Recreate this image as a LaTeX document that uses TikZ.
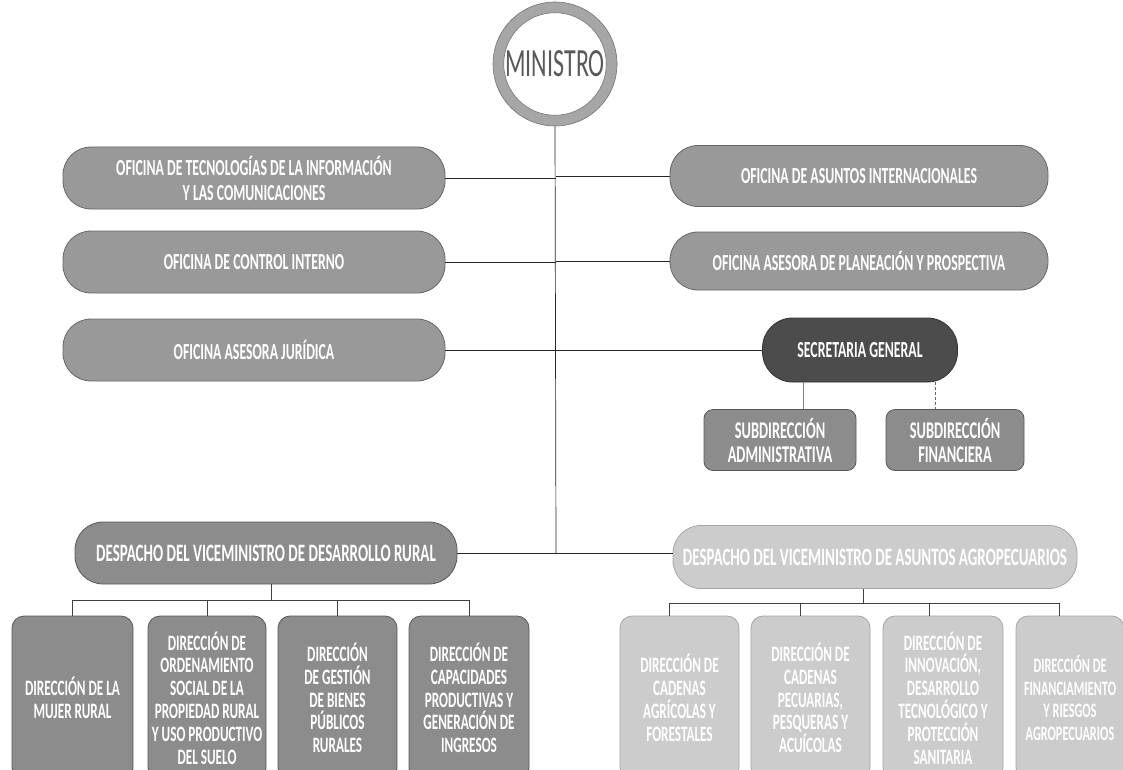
\documentclass[tikz,border=0pt]{standalone}
\usepackage{fontspec}
\newfontfamily\cond{Carlito}[FakeStretch=0.6]
\begin{document}
\begin{tikzpicture}[x=1pt,y=-1pt,
  boxtxt/.style={text=white, align=center, inner sep=0pt, font=\cond\bfseries\fontsize{23}{25}\selectfont},
  office/.style={boxtxt, draw=black!60, line width=0.8pt, fill=black!40, rounded corners=28pt, minimum width=382pt, minimum height=62pt},
  secgen/.style={boxtxt, draw=black!80, line width=0.8pt, fill=black!70, rounded corners=30pt, minimum width=195pt, minimum height=64pt},
  subdir/.style={boxtxt, draw=black!65, line width=0.8pt, fill=black!45, rounded corners=9pt, minimum height=61pt, font=\cond\bfseries\fontsize{24}{24}\selectfont},
  despL/.style={boxtxt, draw=black!65, line width=0.8pt, fill=black!45, rounded corners=28pt, minimum width=382pt, minimum height=62pt, font=\cond\bfseries\fontsize{25}{27}\selectfont},
  despR/.style={despL, draw=black!35, fill=black!20},
  dirL/.style={boxtxt, draw=black!65, line width=0.8pt, fill=black!45, rounded corners=12pt, minimum width=119pt, minimum height=164pt, font=\cond\bfseries\fontsize{22}{22.8}\selectfont},
  dirR/.style={dirL, draw=black!35, fill=black!20},
  conn/.style={draw=black!85, line width=0.7pt},
  bus/.style={draw=black!75, line width=0.7pt}
]
\useasboundingbox (0,0) rectangle (1123,770);
\clip (0,0) rectangle (1123,770);
\fill[white] (0,0) rectangle (1123,770);

% Minister
\node[circle, minimum size=124pt, fill=black!35, draw=black!55, line width=0.6pt, inner sep=0pt] (minring) at (555,64) {};
\node[circle, minimum size=100pt, fill=white, draw=black!55, line width=0.6pt, inner sep=0pt, text=black!65, font=\cond\fontsize{40}{44}\selectfont] (min) at (555,64) {MINISTRO};

% Offices
\node[office] (l1) at (254,178) {OFICINA DE TECNOLOGÍAS DE LA INFORMACIÓN\\Y LAS COMUNICACIONES};
\node[office] (l2) at (254,262) {OFICINA DE CONTROL INTERNO};
\node[office] (l3) at (254,350) {OFICINA ASESORA JURÍDICA};
\node[office, minimum width=378pt, minimum height=61pt] (r1) at (859,176) {OFICINA DE ASUNTOS INTERNACIONALES};
\node[office, minimum width=378pt, minimum height=58pt] (r2) at (859,261) {OFICINA ASESORA DE PLANEACIÓN Y PROSPECTIVA};

% Secretaria general
\node[secgen] (sg) at (860,350) {SECRETARIA GENERAL};
\node[subdir, minimum width=152pt] (sa) at (780,440) {SUBDIRECCIÓN\\ADMINISTRATIVA};
\node[subdir, minimum width=138pt] (sf) at (955,440) {SUBDIRECCIÓN\\FINANCIERA};

% Despachos
\node[despL] (dl) at (266,553) {DESPACHO DEL VICEMINISTRO DE DESARROLLO RURAL};
\node[despR, minimum width=404pt, minimum height=63pt] (dr) at (875,557) {DESPACHO DEL VICEMINISTRO DE ASUNTOS AGROPECUARIOS};

% Direcciones (left)
\node[dirL, minimum width=121pt] (b1) at (72.5,698) {DIRECCIÓN DE LA\\MUJER RURAL};
\node[dirL, minimum width=118pt] (b2) at (207,698) {DIRECCIÓN DE\\ORDENAMIENTO\\SOCIAL DE LA\\PROPIEDAD RURAL\\Y USO PRODUCTIVO\\DEL SUELO};
\node[dirL] (b3) at (337.5,698) {DIRECCIÓN\\DE GESTIÓN\\DE BIENES\\PÚBLICOS\\RURALES};
\node[dirL, minimum width=120pt] (b4) at (469,698) {DIRECCIÓN DE\\CAPACIDADES\\PRODUCTIVAS Y\\GENERACIÓN DE\\INGRESOS};

% Direcciones (right)
\node[dirR] (c1) at (679.5,698) {DIRECCIÓN DE\\CADENAS\\AGRÍCOLAS Y\\FORESTALES};
\node[dirR] (c2) at (810.5,698) {DIRECCIÓN DE\\CADENAS\\PECUARIAS,\\PESQUERAS Y\\ACUÍCOLAS};
\node[dirR, minimum width=120pt] (c3) at (943,698) {DIRECCIÓN DE\\INNOVACIÓN,\\DESARROLLO\\TECNOLÓGICO Y\\PROTECCIÓN\\SANITARIA};
\node[dirR, minimum width=108pt, font=\cond\bfseries\fontsize{20.5}{22.8}\selectfont] (c4) at (1070,698) {DIRECCIÓN DE\\FINANCIAMIENTO\\Y RIESGOS\\AGROPECUARIOS};

% Trunk
\coordinate (trunk) at (556,554);
\draw[conn] (minring.south) -- (trunk);
\draw[conn] (l1.east) -- (l1.east -| trunk);
\draw[conn] (r1.west) -- (r1.west -| trunk);
\draw[conn] (l2.east) -- (l2.east -| trunk);
\draw[conn] (r2.west) -- (r2.west -| trunk);
\draw[conn] (l3.east) -- (sg.west);
\draw[conn] (dl.east) -- (dl.east -| dr.west);

% Secretaria to subdirecciones
\draw[draw=black!50, line width=0.8pt] ([xshift=23pt]sa.north |- sg.south) -- ([xshift=23pt]sa.north);
\draw[draw=black!60, line width=0.7pt, densely dashed] ([xshift=-20pt]sf.north |- sg.south) -- ([xshift=-20pt]sf.north);

% Left bus
\coordinate (lbus) at (0,600);
\draw[bus] ([xshift=5pt]dl.south) -- ([xshift=5pt]dl.south |- lbus);
\draw[bus] (b1.north |- lbus) -- (b4.north |- lbus);
\foreach \n in {b1,b2,b3,b4} \draw[bus] (\n.north |- lbus) -- (\n.north);

% Right bus
\coordinate (rbus) at (0,603);
\draw[bus] ([xshift=-12pt]dr.south) -- ([xshift=-12pt]dr.south |- rbus);
\draw[bus] ([xshift=-10pt]c1.north |- rbus) -- ([xshift=-11pt]c4.north |- rbus);
\draw[bus] ([xshift=-10pt]c1.north |- rbus) -- ([xshift=-10pt]c1.north);
\draw[bus] ([xshift=-10pt]c2.north |- rbus) -- ([xshift=-10pt]c2.north);
\draw[bus] ([xshift=-14pt]c3.north |- rbus) -- ([xshift=-14pt]c3.north);
\draw[bus] ([xshift=-11pt]c4.north |- rbus) -- ([xshift=-11pt]c4.north);
\end{tikzpicture}
\end{document}
